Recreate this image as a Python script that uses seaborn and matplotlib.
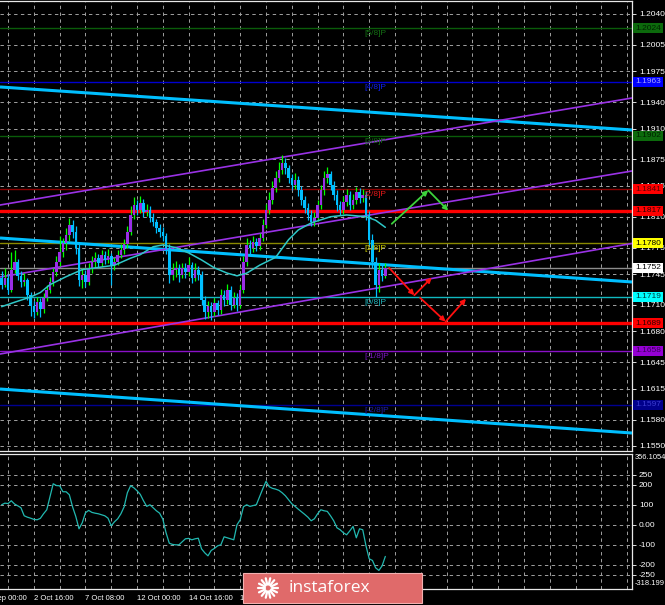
import matplotlib
matplotlib.use("Agg")
import matplotlib.pyplot as plt
import matplotlib.transforms as mtransforms
from matplotlib.patches import Rectangle
from matplotlib.lines import Line2D
import numpy as np
import pandas as pd
import seaborn as sns

sns.set_style("dark")
plt.rcParams["font.family"] = ["Liberation Sans", "DejaVu Sans"]

# ---------------- data ----------------
first_open = 1.1740
closes = [
    1.1733, 1.1741, 1.1727, 1.1750, 1.1759, 1.1743, 1.1736, 1.1738, 1.1721, 1.1709,
    1.1702, 1.1713, 1.1705, 1.1718, 1.1727, 1.1736, 1.1747, 1.1759, 1.1770, 1.1780,
    1.1789, 1.1801, 1.1793, 1.1775, 1.1738, 1.1744, 1.1736, 1.1752, 1.1759, 1.1763,
    1.1758, 1.1767, 1.1761, 1.1765, 1.1755, 1.1759, 1.1767, 1.1772, 1.1779, 1.1793,
    1.1812, 1.1823, 1.1818, 1.1826, 1.1815, 1.1818, 1.1809, 1.1804, 1.1797, 1.1793,
    1.1788, 1.1775, 1.1744, 1.1750, 1.1752, 1.1744, 1.1752, 1.1747, 1.1755, 1.1741,
    1.1750, 1.1744, 1.1716, 1.1702, 1.1709, 1.1702, 1.1712, 1.1704, 1.1721, 1.1716,
    1.1727, 1.1710, 1.1718, 1.1710, 1.1727, 1.1759, 1.1778, 1.1775, 1.1781, 1.1777,
    1.1786, 1.1801, 1.1818, 1.1829, 1.1843, 1.1854, 1.1863, 1.1871, 1.1865, 1.1854,
    1.1846, 1.1852, 1.1840, 1.1829, 1.1820, 1.1812, 1.1804, 1.1809, 1.1823, 1.1840,
    1.1854, 1.1858, 1.1846, 1.1835, 1.1823, 1.1818, 1.1827, 1.1835, 1.1823, 1.1829,
    1.1838, 1.1831, 1.1835, 1.1812, 1.1784, 1.1759, 1.1733, 1.1750, 1.1743, 1.1752,
]
highs = [
    1.1748, 1.1752, 1.1745, 1.1770, 1.1772, 1.1762, 1.1749, 1.1746, 1.1741, 1.1725,
    1.1714, 1.1719, 1.1718, 1.1724, 1.1733, 1.1742, 1.1752, 1.1766, 1.1788, 1.1786,
    1.1797, 1.1809, 1.1806, 1.1799, 1.1781, 1.1752, 1.1750, 1.1758, 1.1766, 1.1770,
    1.1768, 1.1772, 1.1771, 1.1773, 1.1769, 1.1764, 1.1772, 1.1779, 1.1785, 1.1799,
    1.1822, 1.1832, 1.1829, 1.1833, 1.1830, 1.1825, 1.1822, 1.1814, 1.1808, 1.1802,
    1.1798, 1.1791, 1.1779, 1.1758, 1.1760, 1.1756, 1.1758, 1.1757, 1.1764, 1.1759,
    1.1757, 1.1754, 1.1748, 1.1720, 1.1715, 1.1713, 1.1718, 1.1716, 1.1728, 1.1727,
    1.1734, 1.1731, 1.1725, 1.1724, 1.1733, 1.1765, 1.1786, 1.1784, 1.1788, 1.1786,
    1.1792, 1.1808, 1.1825, 1.1838, 1.1851, 1.1862, 1.1872, 1.1880, 1.1877, 1.1869,
    1.1858, 1.1860, 1.1856, 1.1845, 1.1834, 1.1826, 1.1818, 1.1815, 1.1829, 1.1846,
    1.1862, 1.1866, 1.1862, 1.1851, 1.1840, 1.1828, 1.1833, 1.1841, 1.1839, 1.1836,
    1.1844, 1.1843, 1.1842, 1.1839, 1.1816, 1.1790, 1.1764, 1.1758, 1.1755, 1.1757,
]
lows = [
    1.1728, 1.1730, 1.1722, 1.1725, 1.1746, 1.1738, 1.1730, 1.1731, 1.1716, 1.1697,
    1.1695, 1.1698, 1.1696, 1.1701, 1.1714, 1.1723, 1.1731, 1.1743, 1.1754, 1.1764,
    1.1772, 1.1783, 1.1786, 1.1768, 1.1731, 1.1729, 1.1730, 1.1733, 1.1746, 1.1753,
    1.1752, 1.1754, 1.1756, 1.1757, 1.1733, 1.1750, 1.1755, 1.1763, 1.1768, 1.1775,
    1.1789, 1.1808, 1.1812, 1.1814, 1.1810, 1.1811, 1.1804, 1.1799, 1.1791, 1.1787,
    1.1782, 1.1768, 1.1735, 1.1738, 1.1742, 1.1736, 1.1740, 1.1741, 1.1743, 1.1735,
    1.1737, 1.1738, 1.1710, 1.1694, 1.1695, 1.1693, 1.1697, 1.1699, 1.1700, 1.1709,
    1.1711, 1.1704, 1.1706, 1.1703, 1.1706, 1.1723, 1.1754, 1.1768, 1.1770, 1.1771,
    1.1772, 1.1782, 1.1797, 1.1813, 1.1824, 1.1838, 1.1849, 1.1858, 1.1859, 1.1848,
    1.1840, 1.1841, 1.1834, 1.1823, 1.1814, 1.1806, 1.1799, 1.1800, 1.1805, 1.1819,
    1.1835, 1.1848, 1.1840, 1.1829, 1.1817, 1.1812, 1.1813, 1.1822, 1.1818, 1.1819,
    1.1824, 1.1826, 1.1827, 1.1806, 1.1778, 1.1752, 1.1719, 1.1725, 1.1737, 1.1740,
]

ma_bars = [0, 4, 9, 12, 15, 20, 25, 31, 35, 40, 43, 47, 50, 54, 58, 62, 66, 70, 73,
           76, 80, 85, 89, 92, 96, 102, 107, 113, 116, 119]
ma_values = [1.1708, 1.1713, 1.1719, 1.1724, 1.1733, 1.1742, 1.1750, 1.1753, 1.1755,
             1.1763, 1.1767, 1.1776, 1.1778, 1.1775, 1.1769, 1.1761, 1.1752, 1.1746,
             1.1743, 1.1746, 1.1755, 1.1764, 1.1784, 1.1795, 1.1803, 1.1810, 1.1812,
             1.1810, 1.1806, 1.1798]

cci = [
    100, 108, 106, 120, 104, 95, 85, 45, 38, 33,
    27, 25, 32, 55, 75, 140, 205, 196, 195, 165,
    165, 150, 90, 42, -20, 10, 60, 72, 62, 58,
    55, 50, 45, 33, -5, 15, 30, 55, 90, 160,
    195, 185, 170, 152, 120, 92, 100, 85, 70, 58,
    28, -40, -92, -98, -100, -100, -85, -70, -68, -75,
    -70, -67, -120, -140, -155, -128, -118, -105, -100, -60,
    -65, -70, -75, 0, 25, 90, 100, 92, 96, 100,
    140, 180, 217, 190, 182, 178, 172, 160, 145, 125,
    105, 92, 78, 65, 52, 38, 20, 30, 55, 75,
    70, 67, 45, 20, -15, -25, -40, -50, -30, -8,
    -65, -20, -25, -105, -170, -178, -215, -228, -205, -158,
]

price_ticks = [1.2040, 1.2005, 1.1975, 1.1940, 1.1910, 1.1875, 1.1845, 1.1810,
               1.1775, 1.1745, 1.1710, 1.1680, 1.1645, 1.1615, 1.1580, 1.1550]
cci_ticks = [250, 200, 100, 0, -100, -200, -250]
cci_tick_labels = ["250", "200", "100", "0.00", "-100", "-200", "-250"]
cci_top, cci_bottom = 356.1054, -318.199

time_label_bars = [-6, 10, 26, 42, 58, 74, 90, 106]
time_labels = ["30 Sep 00:00", "2 Oct 16:00", "7 Oct 08:00", "12 Oct 00:00",
               "14 Oct 16:00", "19 Oct 08:00", "21 Oct 00:00", "22 Oct 16:00"]

levels = [1.2024, 1.1963, 1.1902, 1.1841, 1.1817, 1.1780, 1.1752, 1.1719, 1.1689, 1.1658, 1.1597]
level_names = ["[5/8]P", "[4/8]P", "[3/8]P", "[2/8]P", "", "[1/8]P", "", "[0/8]P", "", "[-1/8]P", "[-2/8]P"]
level_colors = ["#0a5c0a", "#0000d0", "#0a5c0a", "#8b0000", "#ff0000", "#8a8a00",
                "#8c8c8c", "#10b8c0", "#ff0000", "#8a10c8", "#000090"]
level_widths = [1, 1, 1, 1, 2.4, 1, 1, 1, 2.4, 1, 1]
name_colors = ["#147014", "#1020f0", "#147014", "#e81818", "", "#d0d000", "", "#20b8c0", "",
               "#7a18c0", "#2020a8"]
label_bg = ["#0c6a0c", "#0000ff", "#0c6a0c", "#ff0000", "#ff0000", "#ffff00",
            "#ffffff", "#00ffff", "#ff0000", "#9400d3", "#00008b"]
label_fg = ["#002200", "#a8a8ff", "#002200", "#5a0000", "#300000", "#000000",
            "#000000", "#003838", "#300000", "#3a005a", "#3c3cd0"]

# straight channel lines: price at the left and right edge of the chart
edge_bars = [-0.5, 195.5]
cyan_left = [1.19572, 1.17859, 1.16146]
cyan_right = [1.19084, 1.17360, 1.15647]
purple_left = [1.18233, 1.17417, 1.16543]
purple_right = [1.19447, 1.18619, 1.17797]

# forecast arrows
green_bars, green_prices = [121.0, 132.3, 138.5], [1.1802, 1.1840, 1.1817]
red1_bars, red1_prices = [120.2, 128.0, 133.4], [1.1752, 1.1721, 1.1741]
red2_bars, red2_prices = [129.8, 137.7, 144.0], [1.1718, 1.1691, 1.1717]

# ---------------- figure ----------------
W, H = 665, 605
fig = plt.figure(figsize=(W / 100, H / 100), dpi=100)
fig.patch.set_facecolor("black")
ax1 = fig.add_axes([0, (H - 451) / H, 632 / W, 450 / H])
ax2 = fig.add_axes([0, (H - 588.5) / H, 632 / W, 135 / H])

grid_bars = np.arange(2, 196, 8)
grid_kw = dict(color="#a0a0a0", lw=0.7, ls=(0, (3.5, 3.5)))

for ax in (ax1, ax2):
    ax.set_facecolor("black")
    ax.set_xlim(edge_bars)
    ax.yaxis.tick_right()
    ax.set_xticks(grid_bars)
    ax.grid(True, **grid_kw)
    ax.set_axisbelow(True)
    for s in ("top", "right", "bottom"):
        ax.spines[s].set_color("#e8e8e8")
        ax.spines[s].set_linewidth(0.9)
    ax.spines["left"].set_visible(False)
    ax.tick_params(axis="y", colors="white", labelsize=6, length=3, width=0.6, pad=2)
    ax.tick_params(axis="x", colors="white", labelsize=6, length=0, pad=3)

# --- price panel ---
ax1.set_ylim(1.15443, 1.20547)
ax1.set_yticks(price_ticks)
ax1.set_yticklabels([f"{p:.4f}" for p in price_ticks])
ax1.set_xticklabels([])

for lv, c, w in zip(levels, level_colors, level_widths):
    ax1.axhline(lv, color=c, lw=w, zorder=2)

for l, r in zip(cyan_left, cyan_right):
    ax1.plot(edge_bars, [l, r], color="#00bfff", lw=2.2, zorder=3, solid_capstyle="butt")
for l, r in zip(purple_left, purple_right):
    ax1.plot(edge_bars, [l, r], color="#9a32e6", lw=1.2, zorder=3)

df = pd.DataFrame({"close": closes, "high": highs, "low": lows})
df["open"] = [first_open] + closes[:-1]
df["bar"] = np.arange(len(df))
up = df["close"] >= df["open"]
dn = ~up
ax1.vlines(df["bar"][up], df["low"][up], df["high"][up], color="#00ff00", lw=0.9, zorder=4)
ax1.vlines(df["bar"][dn], df["low"][dn], df["high"][dn], color="#00bfff", lw=0.9, zorder=4)
ax1.bar(df["bar"][up], (df["close"] - df["open"])[up], bottom=df["open"][up],
        width=0.78, color="#9a2ee6", edgecolor="none", linewidth=0, zorder=5)
ax1.bar(df["bar"][dn], (df["close"] - df["open"])[dn], bottom=df["open"][dn],
        width=0.78, color="#00bfff", edgecolor="none", linewidth=0, zorder=5)

sns.lineplot(x=ma_bars, y=ma_values, ax=ax1, color="#2ec8c8", lw=1.1, zorder=6)

for bx, py, col in [(green_bars, green_prices, "#3cd23c"),
                    (red1_bars, red1_prices, "#ff1010"),
                    (red2_bars, red2_prices, "#ff1010")]:
    for k in range(2):
        ax1.annotate("", xy=(bx[k + 1], py[k + 1]), xytext=(bx[k], py[k]),
                     arrowprops=dict(arrowstyle="-|>", color=col, lw=1.3,
                                     mutation_scale=7, shrinkA=0, shrinkB=0),
                     zorder=7)

ytrans = mtransforms.blended_transform_factory(ax1.transAxes, ax1.transData)
half = 5 / 8816
for lv, name, nc, bg, fg in zip(levels, level_names, name_colors, label_bg, label_fg):
    if name:
        ax1.annotate(name, xy=(112.5, lv), xytext=(0, -1.5), textcoords="offset points",
                     ha="left", va="top", fontsize=6, color=nc, zorder=6)
    ax1.add_patch(Rectangle((1 + 1.5 / 632, lv - half), 30 / 632, 2 * half, transform=ytrans,
                            facecolor=bg, edgecolor="none", clip_on=False, zorder=8))
    ax1.text(1 + 3.5 / 632, lv, f"{lv:.4f}", transform=ytrans, ha="left", va="center",
             fontsize=6, color=fg, clip_on=False, zorder=9)

# --- CCI panel ---
ax2.set_ylim(cci_bottom, cci_top)
ax2.set_yticks(cci_ticks)
ax2.set_yticklabels(cci_tick_labels)
sns.lineplot(x=np.arange(len(cci)), y=cci, ax=ax2, color="#22b8b0", lw=0.9, zorder=4)
t2 = mtransforms.blended_transform_factory(ax2.transAxes, ax2.transAxes)
ax2.text(1 + 3 / 632, 0.995, f"{cci_top}", transform=t2, ha="left", va="top",
         fontsize=5.4, color="white", clip_on=False)
ax2.text(1 + 3 / 632, 0.01, f"{cci_bottom}", transform=t2, ha="left", va="bottom",
         fontsize=5.4, color="white", clip_on=False)

ax2.set_xticklabels([""] * len(grid_bars))
xt = mtransforms.blended_transform_factory(ax2.transData, ax2.transAxes)
for b, lab in zip(time_label_bars, time_labels):
    ax2.text(b, -0.045, lab, transform=xt, ha="left", va="top", fontsize=5.5,
             color="white", clip_on=False)

# --- watermark ---
fig.add_artist(Rectangle((243 / W, (H - 603) / H), 179 / W, 30 / H, transform=fig.transFigure,
                         facecolor="#e06a6a", edgecolor="#f2b0b0", lw=0.8, zorder=10))
cx, cy = 268 / W, (H - 588) / H
for a in np.linspace(0, 2 * np.pi, 14, endpoint=False):
    fig.add_artist(Line2D([cx + 3.5 * np.cos(a) / W, cx + 10 * np.cos(a) / W],
                          [cy + 3.5 * np.sin(a) / H, cy + 10 * np.sin(a) / H],
                          transform=fig.transFigure, color="white", lw=1.6, zorder=11))
fig.text(289 / W, (H - 588) / H, "instaforex", fontsize=12.5, color="white",
         family=["Open Sans", "DejaVu Sans"], ha="left", va="center", zorder=12)

fig.savefig("out.png", dpi=100, facecolor="black")
